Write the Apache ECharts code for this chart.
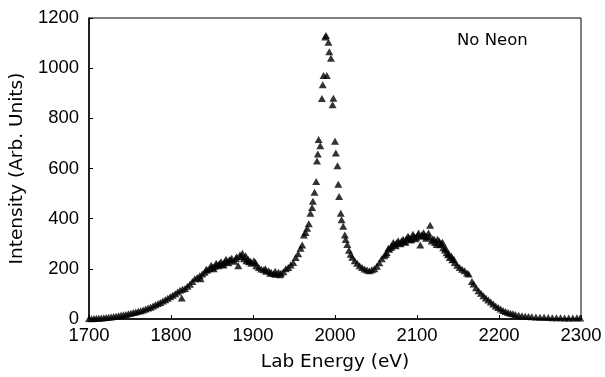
<!DOCTYPE html>
<html>
<head>
<meta charset="utf-8">
<script src="https://cdn.jsdelivr.net/npm/echarts@6/dist/echarts.min.js"></script>
<style>
  html, body { margin: 0; padding: 0; background: #fff; }
  #main { width: 605px; height: 377px; }
</style>
</head>
<body>
<div id="main"></div>
<script>
// 数据：能量(eV) 与 强度(任意单位)
var energy = [
  1700, 1703, 1706, 1709, 1712, 1715, 1718, 1721, 1724, 1727, 1730, 1733, 1736, 1739, 1742, 1745, 1748, 1751, 1754, 1757,
  1760, 1763, 1766, 1769, 1772, 1775, 1778, 1781, 1784, 1787, 1790, 1793, 1796, 1799, 1802, 1805, 1808, 1811, 1813, 1814,
  1817, 1820, 1823, 1826, 1829, 1832, 1835, 1836, 1838, 1841, 1843, 1844, 1847, 1849, 1850, 1852, 1853, 1855, 1856, 1858,
  1859, 1861, 1862, 1864, 1865, 1867, 1868, 1870, 1871, 1873, 1874, 1877, 1879, 1880, 1882, 1884, 1886, 1887, 1889, 1891,
  1892, 1894, 1895, 1897, 1898, 1901, 1903, 1904, 1907, 1910, 1913, 1915, 1916, 1919, 1921, 1922, 1925, 1927, 1928, 1931,
  1933, 1934, 1937, 1940, 1943, 1946, 1949, 1952, 1955, 1958, 1960, 1962, 1964, 1966, 1968, 1970, 1972, 1973, 1975, 1977,
  1978, 1979, 1980, 1982, 1984, 1985, 1986, 1988, 1989, 1990, 1992, 1993, 1995, 1997, 1998, 2000, 2001, 2003, 2004, 2005,
  2007, 2008, 2010, 2012, 2013, 2015, 2017, 2019, 2021, 2024, 2027, 2030, 2033, 2036, 2039, 2042, 2045, 2048, 2051, 2054,
  2057, 2060, 2062, 2063, 2065, 2066, 2068, 2069, 2071, 2072, 2074, 2075, 2077, 2078, 2080, 2081, 2083, 2084, 2086, 2087,
  2089, 2090, 2092, 2093, 2095, 2096, 2098, 2099, 2101, 2102, 2104, 2105, 2106, 2108, 2109, 2111, 2112, 2114, 2115, 2116,
  2118, 2119, 2121, 2122, 2124, 2125, 2127, 2128, 2130, 2131, 2132, 2134, 2135, 2136, 2138, 2139, 2140, 2142, 2143, 2145,
  2146, 2149, 2152, 2155, 2158, 2161, 2163, 2167, 2169, 2172, 2175, 2178, 2181, 2184, 2187, 2190, 2193, 2196, 2199, 2202,
  2205, 2208, 2211, 2214, 2217, 2220, 2224, 2228, 2232, 2236, 2240, 2245, 2250, 2255, 2260, 2265, 2270, 2275, 2280, 2285,
  2290, 2295, 2299
];
var intensity = [
  2, 1, 2, 3, 3, 4, 5, 6, 7, 8, 10, 11, 13, 15, 17, 18, 21, 23, 26, 28,
  31, 33, 36, 40, 44, 47, 52, 57, 62, 66, 72, 77, 83, 89, 95, 101, 108, 115, 84, 119,
  122, 131, 139, 150, 160, 165, 172, 160, 179, 186, 198, 194, 200, 214, 206, 200, 210, 222, 215, 212,
  221, 228, 218, 215, 226, 238, 230, 224, 236, 235, 242, 230, 240, 248, 212, 255, 248, 262, 240, 252,
  232, 238, 228, 230, 222, 232, 225, 212, 205, 199, 196, 200, 190, 192, 182, 186, 180, 190, 178, 186,
  176, 182, 188, 200, 205, 215, 225, 245, 260, 282, 295, 335, 345, 362, 380, 422, 445, 469, 505, 548,
  630, 658, 716, 691, 879, 934, 971, 1124, 1130, 971, 1103, 1065, 1040, 854, 880, 709, 662, 611, 537, 488,
  422, 396, 370, 335, 317, 297, 274, 258, 246, 232, 222, 212, 205, 199, 195, 192, 196, 200, 210, 224,
  240, 252, 258, 265, 282, 278, 285, 291, 305, 298, 292, 304, 312, 302, 300, 311, 318, 308, 306, 320,
  330, 324, 315, 318, 338, 330, 320, 326, 335, 343, 295, 330, 336, 344, 334, 322, 330, 343, 328, 374,
  311, 320, 318, 305, 297, 318, 311, 296, 300, 306, 284, 275, 282, 264, 256, 260, 245, 250, 236, 238,
  225, 214, 205, 198, 192, 183, 179, 150, 140, 125, 113, 103, 93, 84, 76, 68, 60, 52, 46, 40,
  34, 30, 26, 23, 21, 18, 15, 13, 11, 10, 9, 8, 7, 7, 6, 5, 5, 5, 4, 4,
  4, 5, 4
];
var xTicks = { min: 1700, max: 2300, step: 100 };
var yTicks = { min: 0, max: 1200, step: 200 };

function chart() {
  var myChart = echarts.init(document.getElementById('main'));
  var points = energy.map(function (e, i) { return [e, intensity[i]]; });
  var option = {
    backgroundColor: '#fff',
    animation: false,
    grid: {
      left: 89, right: 24, top: 18, bottom: 55,
      show: true, borderColor: '#000', borderWidth: 1
    },
    graphic: [{
      type: 'text', left: 457, top: 32,
      style: { text: 'No Neon', font: '16.5px "DejaVu Sans"', fill: '#000' }
    }],
    xAxis: {
      type: 'value',
      min: xTicks.min, max: xTicks.max, interval: xTicks.step,
      name: 'Lab Energy (eV)', nameLocation: 'middle', nameGap: 34,
      nameTextStyle: { fontFamily: 'DejaVu Sans', fontSize: 18.5, color: '#000' },
      axisLine: { lineStyle: { color: '#000', width: 1.5 } },
      axisTick: { inside: true, length: 4, lineStyle: { color: '#000' } },
      axisLabel: {
        margin: 7, fontFamily: 'Liberation Sans', fontSize: 18.5, color: '#000',
        formatter: function (v) { return String(v); }
      },
      splitLine: { show: false }
    },
    yAxis: {
      type: 'value',
      min: yTicks.min, max: yTicks.max, interval: yTicks.step,
      name: 'Intensity (Arb. Units)', nameLocation: 'middle', nameGap: 58,
      nameTextStyle: { fontFamily: 'DejaVu Sans', fontSize: 18.5, color: '#000' },
      axisLine: { show: true, lineStyle: { color: '#000', width: 1.5 } },
      axisTick: { show: true, inside: true, length: 4, lineStyle: { color: '#000' } },
      axisLabel: {
        margin: 10, fontFamily: 'Liberation Sans', fontSize: 18.5, color: '#000',
        formatter: function (v) { return String(v); }
      },
      splitLine: { show: false }
    },
    series: [{
      type: 'scatter',
      symbol: 'triangle',
      symbolSize: [8, 7],
      itemStyle: { color: '#000' },
      data: points
    }]
  };
  myChart.setOption(option);
}

window.onload = function () {
  chart();
};
</script>
</body>
</html>
